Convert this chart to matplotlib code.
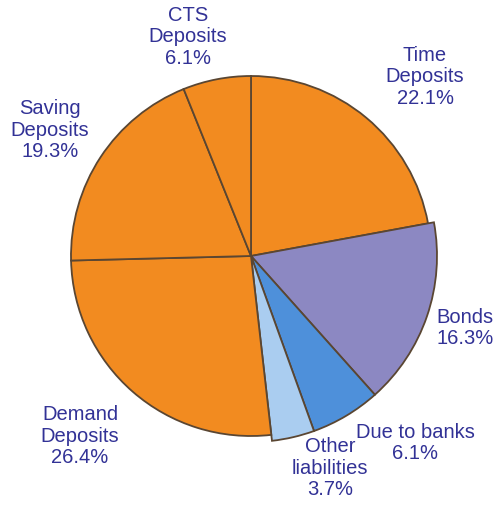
import matplotlib.pyplot as plt

labels = ["Time\nDeposits", "Bonds", "Due to banks", "Other\nliabilities",
          "Demand\nDeposits", "Saving\nDeposits", "CTS\nDeposits"]
shares = [22.1, 16.3, 6.1, 3.7, 26.4, 19.3, 6.1]
colors = ["#F28B20", "#8C88C2", "#4E90DA", "#AACDF0",
          "#F28B20", "#F28B20", "#F28B20"]

# label anchor points in pixels (x, y from top)
label_pos = [(425, 77), (465, 328), (415, 443), (330, 468),
             (80, 436), (50, 130), (188, 37)]

plt.rcParams['font.family'] = ['Liberation Sans', 'DejaVu Sans']

W, H = 496, 507
fig = plt.figure(figsize=(W / 100, H / 100), dpi=100)
ax = fig.add_axes([0, 0, 1, 1])

wedges, _ = ax.pie(
    shares,
    colors=colors,
    startangle=90,
    counterclock=False,
    center=(251, H - 256),
    radius=180,
    frame=True,
    wedgeprops=dict(edgecolor="#5a4632", linewidth=1.3),
)
# the non-deposit slices stick out slightly past the orange ones
for w in wedges[1:4]:
    w.set_radius(186)

ax.set_xlim(0, W)
ax.set_ylim(0, H)
ax.axis("off")

for lbl, val, (px, py) in zip(labels, shares, label_pos):
    ax.text(px, H - py, f"{lbl}\n{val:.1f}%", ha="center", va="center",
            color="#323296", fontsize=14.5, linespacing=1.15)

fig.savefig("out.png", dpi=100)
